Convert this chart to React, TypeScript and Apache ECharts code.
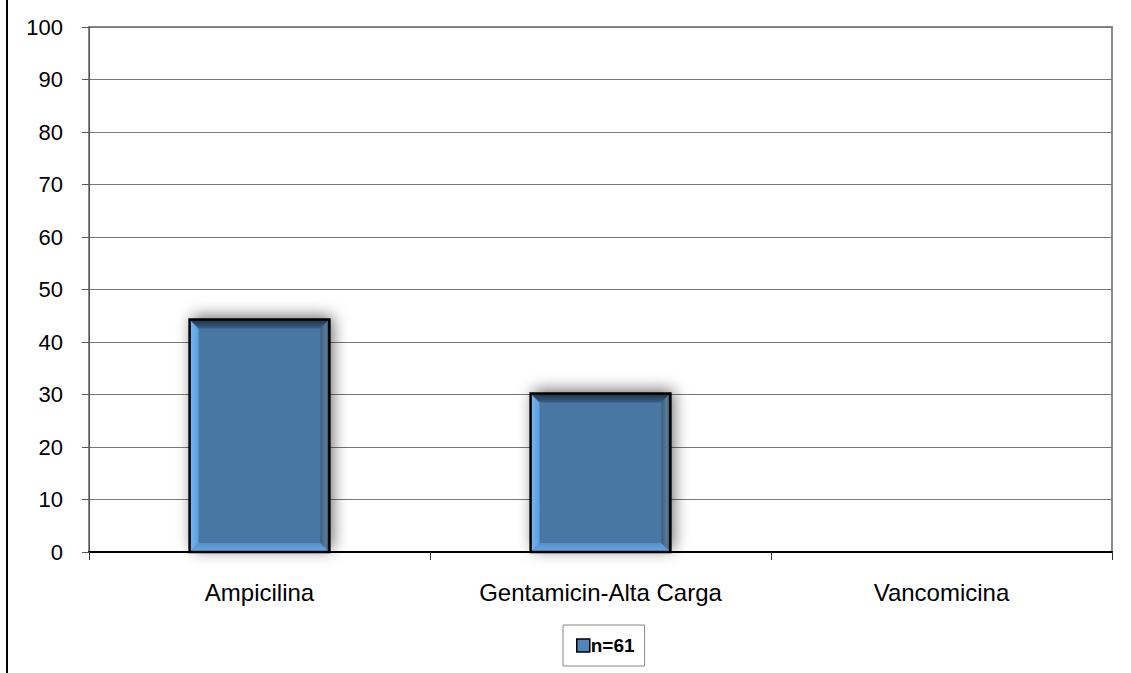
import React, { useEffect, useRef } from "react";
import * as echarts from "echarts";

const categories = ["Ampicilina", "Gentamicin-Alta Carga", "Vancomicina"];
const values = [44.3, 30.2, 0];
const seriesName = "n=61";
const yTicks = { min: 0, max: 100, interval: 10 };

export default function App() {
  const ref = useRef<HTMLDivElement>(null);
  useEffect(() => {
    if (!ref.current) return;
    const chart = echarts.init(ref.current, undefined, { renderer: "svg" });
    const font = "'Liberation Sans', Arial, sans-serif";
    const option: any = {
      animation: false,
      backgroundColor: "#ffffff",
      grid: {
        left: 89,
        top: 27,
        right: 19,
        bottom: 121,
        show: true,
        borderColor: "#8a8a8a",
        borderWidth: 2,
        backgroundColor: "transparent",
      },
      graphic: [
        {
          type: "line",
          shape: { x1: 7, y1: 0, x2: 7, y2: 673 },
          style: { stroke: "#000", lineWidth: 2 },
          z: 100,
        },
      ],
      legend: {
        data: [seriesName],
        left: 563,
        top: 625,
        padding: [11, 10, 11, 13],
        borderColor: "#888",
        borderWidth: 1,
        itemWidth: 13,
        itemHeight: 13,
        itemGap: 5,
        icon: "rect",
        itemStyle: { color: "#4f86bd", borderColor: "#000", borderWidth: 1.5 },
        textStyle: {
          fontFamily: font,
          fontSize: 19,
          fontWeight: "bold",
          color: "#000",
          padding: [0, 0, 0, -4],
        },
      },
      xAxis: {
        type: "category",
        data: categories,
        boundaryGap: true,
        axisLine: { show: true, lineStyle: { color: "#000", width: 2 } },
        axisTick: { show: true, length: 8, interval: 0, lineStyle: { color: "#333", width: 1 } },
        axisLabel: {
          interval: 0,
          margin: 28,
          fontFamily: font,
          fontSize: 24,
          color: "#000",
        },
        splitLine: { show: false },
      },
      yAxis: {
        type: "value",
        min: yTicks.min,
        max: yTicks.max,
        interval: yTicks.interval,
        axisLine: { show: true, lineStyle: { color: "#555", width: 1 } },
        axisTick: { show: true, length: 7, lineStyle: { color: "#555", width: 1 } },
        axisLabel: {
          margin: 26,
          fontFamily: font,
          fontSize: 22,
          color: "#000",
        },
        splitLine: { show: true, lineStyle: { color: "#777", width: 1 } },
      },
      series: [
        {
          name: seriesName,
          type: "custom",
          itemStyle: { color: "#4877a4" },
          data: values.map((v, i) => [i, v]),
          encode: { x: 0, y: 1 },
          renderItem: (params: any, api: any) => {
            const idx = api.value(0);
            const val = api.value(1);
            if (!val) return null;
            const top = api.coord([idx, val]);
            const base = api.coord([idx, 0]);
            const catW = api.size([1, 0])[0];
            const w = catW * 0.41;
            const x = top[0] - w / 2;
            const y = top[1];
            const bot = base[1];
            const h = bot - y;
            const b = 9;
            return {
              type: "group",
              children: [
                {
                  type: "rect",
                  shape: { x, y, width: w, height: h },
                  style: {
                    fill: "#4877a4",
                    shadowBlur: 16,
                    shadowColor: "rgba(0,0,0,0.6)",
                    shadowOffsetX: 3,
                    shadowOffsetY: -3,
                  },
                },
                {
                  type: "rect",
                  shape: { x, y, width: w, height: h },
                  style: { fill: "#4877a4" },
                },
                {
                  type: "polygon",
                  shape: { points: [[x, y], [x + b, y + b], [x + b, bot - b], [x, bot]] },
                  style: {
                    fill: new echarts.graphic.LinearGradient(0, 0, 1, 0, [
                      { offset: 0, color: "#76b9f7" },
                      { offset: 1, color: "#5d9ddb" },
                    ]),
                  },
                },
                {
                  type: "polygon",
                  shape: { points: [[x, bot], [x + b, bot - b], [x + w - b, bot - b], [x + w, bot]] },
                  style: {
                    fill: new echarts.graphic.LinearGradient(0, 1, 0, 0, [
                      { offset: 0, color: "#66a8e8" },
                      { offset: 1, color: "#5891c9" },
                    ]),
                  },
                },
                {
                  type: "polygon",
                  shape: { points: [[x, y], [x + w, y], [x + w - b, y + b], [x + b, y + b]] },
                  style: {
                    fill: new echarts.graphic.LinearGradient(0, 0, 0, 1, [
                      { offset: 0, color: "#1d3043" },
                      { offset: 1, color: "#3a5f85" },
                    ]),
                  },
                },
                {
                  type: "polygon",
                  shape: { points: [[x + w, y], [x + w, bot], [x + w - b, bot - b], [x + w - b, y + b]] },
                  style: {
                    fill: new echarts.graphic.LinearGradient(1, 0, 0, 0, [
                      { offset: 0, color: "#2c4258" },
                      { offset: 0.4, color: "#5c7c99" },
                      { offset: 1, color: "#3b5c7c" },
                    ]),
                  },
                },
                {
                  type: "rect",
                  shape: { x, y, width: w, height: h },
                  style: { fill: "none", stroke: "#000", lineWidth: 2.5 },
                },
              ],
            };
          },
        },
      ],
    };
    chart.setOption(option);
    return () => chart.dispose();
  }, []);
  return (
    <div
      ref={ref}
      style={{ position: "absolute", left: 0, top: 0, width: 1131, height: 673 }}
    />
  );
}
